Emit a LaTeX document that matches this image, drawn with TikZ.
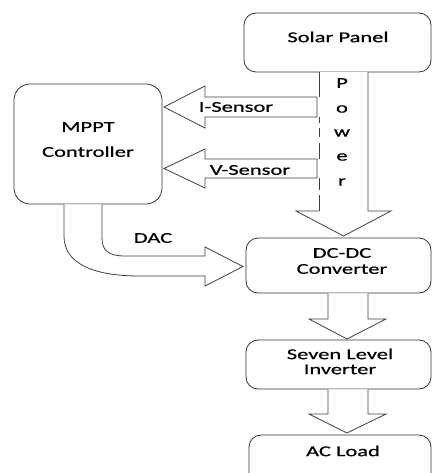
\documentclass[tikz,border=0pt]{standalone}
\usepackage{fontspec}
\setmainfont[FakeStretch=1.5,FakeBold=0.6]{Carlito}
\begin{document}
\begin{tikzpicture}[x=1pt,y=1pt,
  blk/.style={draw=black!80, line width=0.8pt, rounded corners=12pt, inner sep=0pt},
  harrow/.style={draw=black!75, line width=0.8pt, fill=white, line join=miter},
  edge/.style={draw=black!75, line width=0.8pt},
  lbl/.style={font=\fontsize{15}{18}\selectfont, inner sep=0pt, align=center}]
\useasboundingbox (0,0) rectangle (432,-473);
% boxes
\node[blk, minimum width=187pt, minimum height=59pt] (solar) at (337.5,-42.5) {};
\node[blk, rounded corners=16pt, minimum width=148pt, minimum height=120pt] (mppt) at (88,-144) {};
\node[blk, minimum width=185pt, minimum height=55pt] (dcdc) at (338.5,-265.5) {};
\node[blk, minimum width=185pt, minimum height=49pt] (inv) at (338.5,-364.5) {};
\node[blk, minimum width=182pt, minimum height=60pt] (load) at (340,-465) {};
% texts
\node[lbl] (solarT) at (338,-37) {Solar Panel};
\node[lbl, font=\fontsize{15}{25}\selectfont] (mpptT) at (88,-139.5) {MPPT\\Controller};
\node[lbl, font=\fontsize{15}{16}\selectfont] (dcdcT) at (342,-261) {DC-DC\\Converter};
\node[lbl, font=\fontsize{15}{15}\selectfont] (invT) at (340,-361.5) {Seven Level\\Inverter};
\node[lbl] (loadT) at (343,-451) {AC Load};
% power arrow
\fill[white] (319,-72) -- (368,-72) -- (368,-211) -- (391,-211) -- (343.5,-236) -- (296,-211) -- (319,-211) -- cycle;
\draw[edge, line join=miter] (368,-72) -- (368,-211) -- (391,-211) -- (343.5,-236) -- (296,-211) -- (319,-211);
\draw[edge] (319,-72) -- (319,-97);
\draw[edge] (319,-117) -- (319,-123);
\draw[edge] (319,-128) -- (319,-137);
\draw[edge] (319,-143) -- (319,-159);
\draw[edge] (319,-178) -- (319,-190);
\draw[edge] (319,-195) -- (319,-211);
\node[lbl] (p1) at (342,-83) {P};
\node[lbl] (p2) at (342,-109) {o};
\node[lbl] (p3) at (342,-133) {w};
\node[lbl] (p4) at (342,-157) {e};
\node[lbl] (p5) at (342,-182) {r};
% sensor arrows
\draw[harrow] (317,-97) -- (205,-97) -- (205,-86) -- (164,-107) -- (205,-128) -- (205,-117) -- (317,-117) -- cycle;
\node[lbl] (isT) at (236,-107) {I-Sensor};
\draw[harrow] (317,-159) -- (205,-159) -- (205,-149) -- (164,-168.5) -- (205,-188) -- (205,-178) -- (317,-178) -- cycle;
\node[lbl] (vsT) at (250,-170) {V-Sensor};
% DAC arrow
\draw[harrow] (64,-204.4) -- (64,-236) .. controls (64,-262) and (90,-276) .. (140,-276) -- (205,-276) -- (205,-286) -- (243,-266.5) -- (205,-247) -- (205,-256) -- (125,-256) .. controls (108,-256) and (102,-250) .. (102,-238) -- (102,-204.4);
\node[lbl] (dacT) at (153,-238) {DAC};
% lower arrows
\draw[harrow] (328,-293.4) -- (328,-319) -- (309,-319) -- (347,-339) -- (386,-319) -- (368,-319) -- (368,-293.4);
\draw[harrow] (328,-389.4) -- (328,-414) -- (309,-414) -- (347,-433) -- (386,-414) -- (368,-414) -- (368,-389.4);
\end{tikzpicture}
\end{document}
